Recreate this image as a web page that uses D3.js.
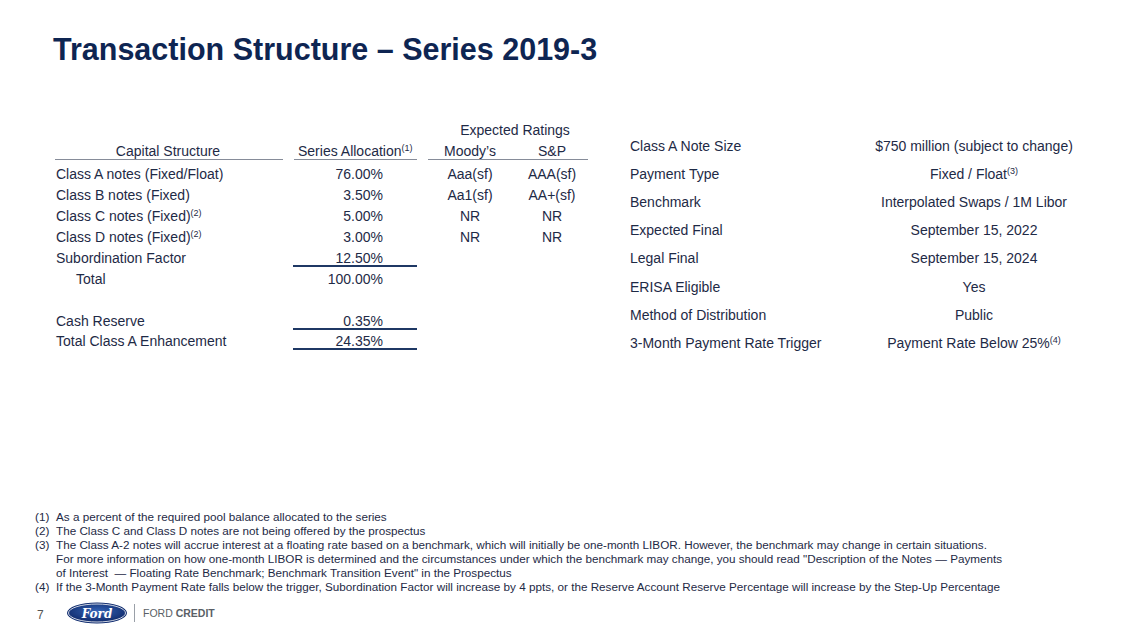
<!DOCTYPE html>
<html>
<head>
<meta charset="utf-8">
<script src="https://cdn.jsdelivr.net/npm/d3@7"></script>
<style>
  html, body { margin: 0; padding: 0; background: #fff; }
  svg { display: block; }
</style>
</head>
<body>
<div id="slide"></div>
<script>
// table contents
var capLabels = ['Class A notes (Fixed/Float)', 'Class B notes (Fixed)', 'Class C notes (Fixed)', 'Class D notes (Fixed)', 'Subordination Factor', 'Total']
var capNotes = ['', '', '(2)', '(2)', '', '']
var allocation = ['76.00%', '3.50%', '5.00%', '3.00%', '12.50%', '100.00%']
var moodys = ['Aaa(sf)', 'Aa1(sf)', 'NR', 'NR']
var sandp = ['AAA(sf)', 'AA+(sf)', 'NR', 'NR']
var reserveLabels = ['Cash Reserve', 'Total Class A Enhancement']
var reserveValues = ['0.35%', '24.35%']

var termLabels = ['Class A Note Size', 'Payment Type', 'Benchmark', 'Expected Final', 'Legal Final', 'ERISA Eligible', 'Method of Distribution', '3-Month Payment Rate Trigger']
var termValues = ['$750 million (subject to change)', 'Fixed / Float', 'Interpolated Swaps / 1M Libor', 'September 15, 2022', 'September 15, 2024', 'Yes', 'Public', 'Payment Rate Below 25%']
var termNotes = ['', '(3)', '', '', '', '', '', '(4)']

var footnotes = [
  ['(1)', 'As a percent of the required pool balance allocated to the series'],
  ['(2)', 'The Class C and Class D notes are not being offered by the prospectus'],
  ['(3)', 'The Class A-2 notes will accrue interest at a floating rate based on a benchmark, which will initially be one-month LIBOR. However, the benchmark may change in certain situations.'],
  ['', 'For more information on how one-month LIBOR is determined and the circumstances under which the benchmark may change, you should read "Description of the Notes \u2014 Payments'],
  ['', 'of Interest  \u2014 Floating Rate Benchmark; Benchmark Transition Event" in the Prospectus'],
  ['(4)', 'If the 3-Month Payment Rate falls below the trigger, Subordination Factor will increase by 4 ppts, or the Reserve Account Reserve Percentage will increase by the Step-Up Percentage']
]

var W = 1129, H = 635
var ink = '#1e2a46', navy = '#0e2552', rule = '#1f3864'
var font = '"Liberation Sans", Arial, sans-serif'

var svg = d3.select('#slide').append('svg')
    .attr('width', W)
    .attr('height', H)
    .style('font-family', font)

// title
svg.append('text')
    .attr('x', 53)
    .attr('y', 60)
    .text('Transaction Structure \u2013 Series 2019-3')
    .attr('font-size', '30.5px')
    .attr('font-weight', 'bold')
    .attr('fill', navy)

function addText(g, x, y, txt, anchor, note, size) {
  var t = g.append('text')
      .attr('x', x)
      .attr('y', y)
      .attr('text-anchor', anchor || 'start')
      .attr('font-size', (size || 14) + 'px')
      .attr('fill', ink)
      .style('white-space', 'pre')
  t.append('tspan').text(txt)
  if (note) {
    t.append('tspan')
        .attr('font-size', '9px')
        .attr('dy', -5)
        .text(note)
  }
  return t
}

// ---- left table
var left = svg.append('g')
var colLabel = 56, colAlloc = 383, colMoody = 470, colSP = 552

var yRow = d3.scaleLinear()
    .domain([0, capLabels.length - 1])
    .range([179, 284])
var yReserve = d3.scaleLinear()
    .domain([0, reserveLabels.length - 1])
    .range([326, 346])

addText(left, 515, 135, 'Expected Ratings', 'middle')
addText(left, 168, 156, 'Capital Structure', 'middle')
addText(left, 298, 156, 'Series Allocation', 'start', '(1)')
addText(left, colMoody, 156, 'Moody\u2019s', 'middle')
addText(left, colSP, 156, 'S&P', 'middle')

// header rules
var headRules = [[55, 283], [294, 417], [428, 588]]
left.selectAll('.hrule')
    .data(headRules)
  .enter().append('line')
    .attr('class', 'hrule')
    .attr('x1', function(d){ return d[0] }).attr('x2', function(d){ return d[1] })
    .attr('y1', 159.5).attr('y2', 159.5)
    .attr('stroke', '#868c99').attr('stroke-width', 1)

capLabels.forEach(function(d, i){
  addText(left, d === 'Total' ? colLabel + 20 : colLabel, yRow(i), d, 'start', capNotes[i])
  addText(left, colAlloc, yRow(i), allocation[i], 'end')
})
moodys.forEach(function(d, i){
  addText(left, colMoody, yRow(i), d, 'middle')
  addText(left, colSP, yRow(i), sandp[i], 'middle')
})
reserveLabels.forEach(function(d, i){
  addText(left, colLabel, yReserve(i), d, 'start')
  addText(left, colAlloc, yReserve(i), reserveValues[i], 'end')
})

// underlines under subtotal values
var underY = [yRow(4) + 3, yReserve(0) + 3, yReserve(1) + 3]
left.selectAll('.uline')
    .data(underY)
  .enter().append('line')
    .attr('class', 'uline')
    .attr('x1', 293).attr('x2', 417)
    .attr('y1', function(d){ return d }).attr('y2', function(d){ return d })
    .attr('stroke', rule)
    .attr('stroke-width', 2)

// ---- right table
var right = svg.append('g')
var yTerm = d3.scaleLinear()
    .domain([0, termLabels.length - 1])
    .range([150.5, 348])
termLabels.forEach(function(d, i){
  addText(right, 630, yTerm(i), d, 'start')
  addText(right, 974, yTerm(i), termValues[i], 'middle', termNotes[i])
})

// ---- footnotes
var foot = svg.append('g')
var yFoot = d3.scaleLinear()
    .domain([0, footnotes.length - 1])
    .range([520.5, 591])
footnotes.forEach(function(d, i){
  if (d[0]) addText(foot, 35, yFoot(i), d[0], 'start', '', 11.7)
  addText(foot, 56, yFoot(i), d[1], 'start', '', 11.7)
})

// ---- footer
var footer = svg.append('g')
footer.append('text')
    .attr('x', 37).attr('y', 619)
    .text('7')
    .attr('font-size', '12px')
    .attr('fill', '#555')

var grad = svg.append('defs').append('radialGradient')
    .attr('id', 'oval').attr('cx', '50%').attr('cy', '40%').attr('r', '60%')
grad.append('stop').attr('offset', '0%').attr('stop-color', '#3565b8')
grad.append('stop').attr('offset', '100%').attr('stop-color', '#102a6b')

footer.append('ellipse')
    .attr('cx', 97).attr('cy', 613).attr('rx', 30).attr('ry', 10.5)
    .attr('fill', '#0d2a6e')
footer.append('ellipse')
    .attr('cx', 97).attr('cy', 613).attr('rx', 28.5).attr('ry', 9)
    .attr('fill', 'url(#oval)')
    .attr('stroke', '#fff').attr('stroke-width', 0.8)
footer.append('text')
    .attr('x', 97).attr('y', 617.5)
    .attr('text-anchor', 'middle')
    .attr('font-family', '"DejaVu Serif", serif')
    .attr('font-style', 'italic')
    .attr('font-weight', 'bold')
    .attr('font-size', '12px')
    .attr('fill', '#fff')
    .text('Ford')

footer.append('line')
    .attr('x1', 134.5).attr('x2', 134.5).attr('y1', 604).attr('y2', 622)
    .attr('stroke', '#9aa0a8').attr('stroke-width', 1)

var brand = footer.append('text')
    .attr('x', 143).attr('y', 617)
    .attr('font-size', '10.5px')
    .attr('fill', '#5a5f66')
brand.append('tspan').text('FORD ')
brand.append('tspan').attr('font-weight', 'bold').text('CREDIT')
</script>
</body>
</html>
